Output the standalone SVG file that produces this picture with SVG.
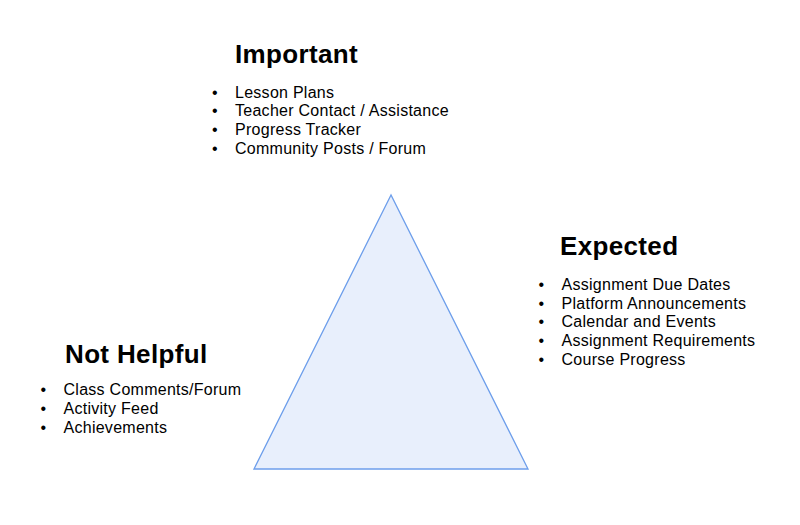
<svg xmlns="http://www.w3.org/2000/svg" width="800" height="525" viewBox="0 0 800 525">
  <style>
    text { font-family: "Liberation Sans", Arial, sans-serif; fill: #000; }
    .head { font-size: 26px; font-weight: bold; letter-spacing: 0.35px; }
    .item { font-size: 16px; letter-spacing: 0.27px; }
    .tri { fill: #e8effc; stroke: #6d9eeb; stroke-width: 1.3; }
  </style>
  <rect width="800" height="525" fill="#ffffff"/>

  <g id="pyramid">
    <polygon class="tri" points="391,195 254,469 528,469"/>
  </g>

  <g id="important">
    <text class="head" x="235" y="63">Important</text>
    <text class="item" x="212" y="97.5">•</text>
    <text class="item" x="235" y="97.5">Lesson Plans</text>
    <text class="item" x="212" y="116.2">•</text>
    <text class="item" x="235" y="116.2">Teacher Contact / Assistance</text>
    <text class="item" x="212" y="134.9">•</text>
    <text class="item" x="235" y="134.9">Progress Tracker</text>
    <text class="item" x="212" y="153.6">•</text>
    <text class="item" x="235" y="153.6">Community Posts / Forum</text>
  </g>

  <g id="expected">
    <text class="head" x="560" y="255">Expected</text>
    <text class="item" x="538.5" y="290">•</text>
    <text class="item" x="561.5" y="290">Assignment Due Dates</text>
    <text class="item" x="538.5" y="308.7">•</text>
    <text class="item" x="561.5" y="308.7">Platform Announcements</text>
    <text class="item" x="538.5" y="327.4">•</text>
    <text class="item" x="561.5" y="327.4">Calendar and Events</text>
    <text class="item" x="538.5" y="346.1">•</text>
    <text class="item" x="561.5" y="346.1">Assignment Requirements</text>
    <text class="item" x="538.5" y="364.8">•</text>
    <text class="item" x="561.5" y="364.8">Course Progress</text>
  </g>

  <g id="not-helpful">
    <text class="head" x="65" y="362.5">Not Helpful</text>
    <text class="item" x="40.5" y="395">•</text>
    <text class="item" x="63.5" y="395">Class Comments/Forum</text>
    <text class="item" x="40.5" y="414">•</text>
    <text class="item" x="63.5" y="414">Activity Feed</text>
    <text class="item" x="40.5" y="433">•</text>
    <text class="item" x="63.5" y="433">Achievements</text>
  </g>
</svg>
